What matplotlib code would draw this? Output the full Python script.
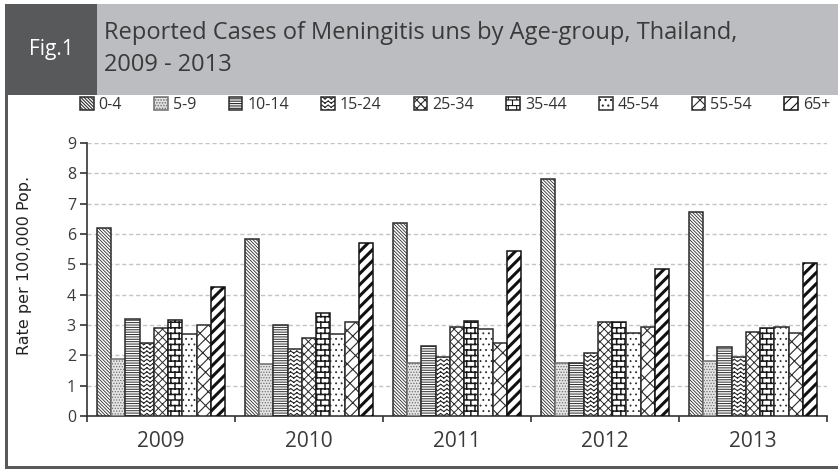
import warnings

import numpy as np
import matplotlib
matplotlib.use("Agg")
import matplotlib.pyplot as plt
from matplotlib import hatch as mhatch
from matplotlib.path import Path
from matplotlib.patches import Rectangle

warnings.filterwarnings("ignore")

years = ["2009", "2010", "2011", "2012", "2013"]
age_groups = ["0-4", "5-9", "10-14", "15-24", "25-34", "35-44", "45-54", "55-54", "65+"]

rate_0_4 = [6.20, 5.85, 6.37, 7.80, 6.71]
rate_5_9 = [1.87, 1.71, 1.76, 1.76, 1.80]
rate_10_14 = [3.19, 2.99, 2.31, 1.76, 2.26]
rate_15_24 = [2.40, 2.22, 1.96, 2.07, 1.93]
rate_25_34 = [2.90, 2.56, 2.95, 3.11, 2.77]
rate_35_44 = [3.15, 3.41, 3.14, 3.11, 2.90]
rate_45_54 = [2.70, 2.70, 2.86, 2.73, 2.95]
rate_55_64 = [3.00, 3.11, 2.40, 2.95, 2.74]
rate_65_plus = [4.26, 5.69, 5.45, 4.85, 5.04]

series = [rate_0_4, rate_5_9, rate_10_14, rate_15_24, rate_25_34,
          rate_35_44, rate_45_54, rate_55_64, rate_65_plus]


# extra hatch patterns: 'z' = wavy rows, 'b' = brick wall
class SegmentHatch(mhatch.HatchPatternBase):
    char = ""

    def __init__(self, hatch, density):
        n = hatch.count(self.char) if self.char else 0
        self.segments = self.make_segments(int(n * density)) if n else np.empty((0, 2, 2))
        self.num_vertices = 2 * len(self.segments)

    def set_vertices_and_codes(self, vertices, codes):
        vertices[:] = self.segments.reshape(-1, 2)
        codes[0::2] = Path.MOVETO
        codes[1::2] = Path.LINETO


class ZigZagHatch(SegmentHatch):
    char = "z"

    def make_segments(self, rows):
        teeth = max(1, int(rows * 2 / 3))
        xs = np.linspace(0, 1, 2 * teeth + 1)
        segs = []
        for r in range(rows):
            y0 = (r + 0.25) / rows
            ys = y0 + 0.5 / rows * (np.arange(len(xs)) % 2)
            for k in range(len(xs) - 1):
                segs.append([[xs[k], ys[k]], [xs[k + 1], ys[k + 1]]])
        return np.array(segs)


class BrickHatch(SegmentHatch):
    char = "b"

    def make_segments(self, rows):
        bricks = max(1, int(rows * 2 / 3))
        segs = [[[0, r / rows], [1, r / rows]] for r in range(rows + 1)]
        for r in range(rows):
            if r % 2 == 0:
                xs = np.arange(bricks + 1) / bricks
            else:
                xs = (np.arange(bricks) + 0.5) / bricks
            for x in xs:
                segs.append([[x, r / rows], [x, (r + 1) / rows]])
        return np.array(segs, dtype=float)


mhatch._hatch_types.extend([ZigZagHatch, BrickHatch])

plt.rcParams["hatch.linewidth"] = 0.8

# hatch, face, edge, hatch linewidth for each age group
styles = [
    ("\\" * 10, "white", "#2b2b2b", 0.6),
    ("......", "#e4e4e4", "#6e6e6e", 0.6),
    ("-" * 7, "white", "#2b2b2b", 0.7),
    ("zzzz", "white", "#2b2b2b", 0.8),
    ("xxxx", "white", "#2b2b2b", 0.7),
    ("bbb", "white", "#1a1a1a", 1.1),
    ("...", "white", "#2b2b2b", 0.6),
    ("/xx", "white", "#2b2b2b", 0.8),
    ("///", "white", "#111111", 2.2),
]

W, H = 838, 469
fig = plt.figure(figsize=(W / 100, H / 100), dpi=100)


def fig_rect(x0, y0, x1, y1, color):
    fig.patches.append(Rectangle((x0 / W, 1 - y1 / H), (x1 - x0) / W, (y1 - y0) / H,
                                 transform=fig.transFigure, color=color, lw=0, zorder=0))


# header band and frame
fig_rect(5, 4, W, 95, "#bcbdc0")
fig_rect(5, 4, 97, 95, "#58595b")
fig_rect(5, 95, 7.5, H, "#58595b")
fig_rect(5, 466, W, H, "#58595b")

fig.text(51 / W, 1 - 50 / H, "Fig.1", color="white", fontsize=15, family="Open Sans",
         ha="center", va="center")
fig.text(104 / W, 1 - 33 / H, "Reported Cases of Meningitis uns by Age-group, Thailand,",
         color="#3a3a3a", fontsize=17, family="Open Sans", ha="left", va="center")
fig.text(104 / W, 1 - 65 / H, "2009 - 2013",
         color="#3a3a3a", fontsize=17, family="Open Sans", ha="left", va="center")

ax = fig.add_axes([87 / W, 1 - 416 / H, (827 - 87) / W, (416 - 143) / H])

x = np.arange(len(years))
width = 0.096
for i, (vals, label, (hatch, face, edge, hlw)) in enumerate(zip(series, age_groups, styles)):
    bars = ax.bar(x + (i - 4) * width, vals, width, label=label, color=face,
                  edgecolor=edge, linewidth=1.1, hatch=hatch, zorder=3)
    for b in bars:
        if hasattr(b, "set_hatch_linewidth"):
            b.set_hatch_linewidth(hlw)

ax.set_xlim(-0.5, len(years) - 0.5)
ax.set_ylim(0, 9)
ax.set_yticks(np.arange(0, 10, 1))
ax.set_xticks(np.arange(-0.5, len(years), 1))
ax.set_xticklabels([])
ax.set_xticks(x, minor=True)
ax.set_xticklabels(years, minor=True)

ax.tick_params(axis="x", which="major", length=4, width=1.2, color="#333333", direction="out")
ax.tick_params(axis="x", which="minor", length=0, pad=11, labelsize=15, labelcolor="#3a3a3a")
ax.tick_params(axis="y", length=5, width=1.2, color="#333333", pad=3, labelsize=11.5,
               labelcolor="#3a3a3a")
for lab in ax.get_xticklabels(minor=True) + ax.get_yticklabels():
    lab.set_family("Open Sans")

for side in ["top", "right"]:
    ax.spines[side].set_visible(False)
for side in ["left", "bottom"]:
    ax.spines[side].set_color("#333333")
    ax.spines[side].set_linewidth(1.2)

ax.yaxis.grid(True, linestyle=(0, (3, 2)), color="#c4c4c4", lw=1.0)
ax.set_axisbelow(True)

fig.text(24 / W, 1 - 265 / H, "Rate per 100,000 Pop.", rotation=90, fontsize=11.5,
         color="#222222", ha="center", va="center")

leg = ax.legend(loc="center left", bbox_to_anchor=(80 / W, 1 - 105 / H, (830 - 80) / W, 0),
                bbox_transform=fig.transFigure, mode="expand", ncol=9, frameon=False,
                handlelength=0.85, handleheight=0.85, handletextpad=0.3,
                borderaxespad=0, borderpad=0, prop={"family": "Open Sans", "size": 11.5})
for t in leg.get_texts():
    t.set_color("#333333")

fig.savefig("out.png", dpi=100)
